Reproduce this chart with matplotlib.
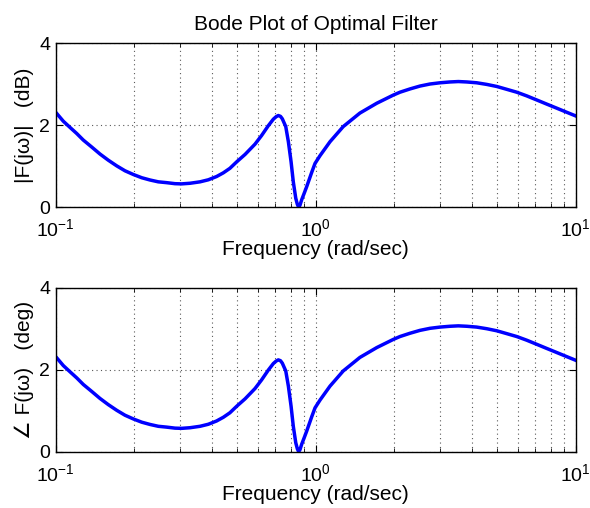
import numpy as np
import matplotlib
matplotlib.use("Agg")
import matplotlib.pyplot as plt
from matplotlib.ticker import LogLocator, NullFormatter

plt.rcParams['font.family'] = ['Liberation Sans', 'DejaVu Sans']
plt.rcParams['mathtext.fontset'] = 'custom'
plt.rcParams['mathtext.rm'] = 'Liberation Sans'

# values (frequency in rad/sec)
freq = [0.100, 0.1070, 0.1135, 0.1205, 0.1277, 0.1376, 0.1480, 0.1592, 0.1717, 0.1847,
        0.1988, 0.2143, 0.2305, 0.2481, 0.2670, 0.2877, 0.3048, 0.3284, 0.3590, 0.3864,
        0.4158, 0.4413, 0.4677, 0.497, 0.535, 0.584, 0.619, 0.657, 0.687, 0.704,
        0.718, 0.732, 0.744, 0.767, 0.785, 0.804, 0.820, 0.838, 0.850, 0.860,
        0.870, 0.883, 0.903, 0.923, 0.965, 0.994, 1.039, 1.135, 1.276, 1.479,
        1.717, 1.989, 2.110, 2.306, 2.518, 2.752, 3.008, 3.286, 3.536, 3.81,
        4.16, 4.55, 4.97, 5.43, 5.93, 6.48, 7.08, 7.73, 8.45, 9.23, 10.0]
mag_db = [2.32, 2.10, 1.95, 1.80, 1.64, 1.47, 1.30, 1.15, 1.01, 0.89,
          0.80, 0.72, 0.665, 0.62, 0.60, 0.575, 0.57, 0.585, 0.62, 0.67,
          0.75, 0.84, 0.95, 1.11, 1.29, 1.54, 1.75, 1.99, 2.15, 2.21,
          2.24, 2.22, 2.16, 1.97, 1.60, 1.11, 0.62, 0.22, 0.07, 0.0,
          0.05, 0.18, 0.34, 0.50, 0.85, 1.07, 1.26, 1.60, 1.97, 2.30,
          2.54, 2.74, 2.81, 2.89, 2.96, 3.01, 3.04, 3.06, 3.07, 3.06,
          3.04, 3.00, 2.95, 2.88, 2.81, 2.72, 2.62, 2.52, 2.42, 2.32, 2.23]
phase_deg = list(mag_db)

fig = plt.figure(figsize=(5.9, 5.08), dpi=100)
ax1 = fig.add_axes([0.0944, 0.5921, 0.8814, 0.3223])
ax2 = fig.add_axes([0.0944, 0.1108, 0.8814, 0.3228])

for ax, y, lab in [(ax1, mag_db, "|F(j\u03c9)|   (dB)"),
                   (ax2, phase_deg, "\u2220 F(j\u03c9)   (deg)")]:
    ax.semilogx(freq, y, color=(0, 0, 1), lw=2.5, solid_joinstyle='round')
    ax.set_xlim(0.1, 10)
    ax.set_ylim(0, 4)
    ax.set_yticks([0, 2, 4])
    ax.xaxis.set_major_locator(LogLocator(base=10, numticks=10))
    ax.xaxis.set_minor_locator(LogLocator(base=10, subs=np.arange(2, 10), numticks=20))
    ax.xaxis.set_minor_formatter(NullFormatter())
    ax.grid(True, which='both', linestyle=(0, (1, 3)), color='0.35', lw=0.8)
    ax.tick_params(which='both', direction='in', top=True, right=True, labelsize=14)
    ax.tick_params(axis='x', which='major', pad=8)
    ax.tick_params(axis='y', which='major', pad=4)
    ax.tick_params(which='major', length=5)
    ax.tick_params(which='minor', length=3)
    ax.set_xlabel("Frequency (rad/sec)", fontsize=15, labelpad=0)
    ax.set_ylabel(lab, fontsize=15, labelpad=4)
    for s in ax.spines.values():
        s.set_linewidth(1.0)

ax1.set_title("Bode Plot of Optimal Filter", fontsize=15, pad=10)

fig.savefig("out.png", dpi=100)
